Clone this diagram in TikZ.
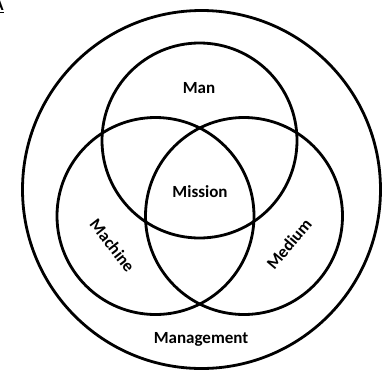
\documentclass[tikz,border=0pt]{standalone}
\usepackage{fontspec}
\setmainfont{Carlito}
\begin{document}
\begin{tikzpicture}[x=1pt,y=-1pt,
  ring/.style={draw=black,line width=2.8pt},
  lbl/.style={font=\fontsize{17}{19}\selectfont\bfseries,inner sep=0pt}]
\useasboundingbox (0,0) rectangle (385,370);
\node[ring,circle,minimum size=358pt,inner sep=0pt] (outer) at (201.5,189.5) {};
\node[ring,circle,minimum size=195pt,inner sep=0pt] (man) at (199.5,140.5) {};
\node[ring,circle,minimum size=197pt,inner sep=0pt] (machine) at (155.5,216) {};
\node[ring,circle,minimum size=197pt,inner sep=0pt] (medium) at (244,216) {};
\node[lbl] (lman) at (199,88) {Man};
\node[lbl] (lmission) at (200,192) {Mission};
\node[lbl,rotate=-52] (lmachine) at (112.5,245.5) {Machine};
\node[lbl,rotate=50] (lmedium) at (289,244) {Medium};
\node[lbl] (lmanagement) at (201,339) {Management};
\node[lbl,anchor=south east,font=\fontsize{17}{19}\selectfont\bfseries] (corner) at (4,12.5) {\underline{A}};
\end{tikzpicture}
\end{document}
